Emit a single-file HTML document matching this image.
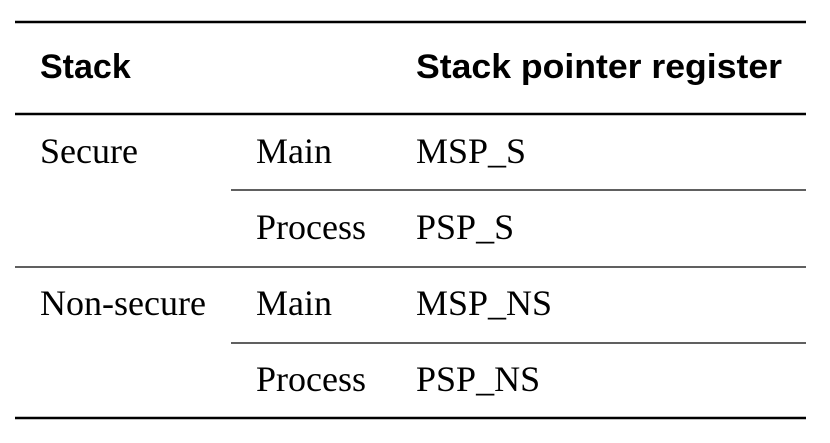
<!DOCTYPE html>
<html><head><style>html,body{margin:0;padding:0;background:#fff}</style></head>
<body>
<svg width="830" height="438" xmlns="http://www.w3.org/2000/svg">
<rect width="830" height="438" fill="#fff"/>
<g stroke="#000">
<line x1="15" y1="22" x2="806" y2="22" stroke-width="2.5"/>
<line x1="15" y1="114" x2="806" y2="114" stroke-width="2.5"/>
<line x1="231" y1="190" x2="806" y2="190" stroke-width="1.3"/>
<line x1="15" y1="267" x2="806" y2="267" stroke-width="1.3"/>
<line x1="231" y1="343" x2="806" y2="343" stroke-width="1.3"/>
<line x1="15" y1="418" x2="806" y2="418" stroke-width="2.5"/>
</g>
<g font-family="Liberation Sans, sans-serif" font-weight="bold" font-size="34">
<text x="40" y="78">Stack</text>
<text x="416" y="78" textLength="366" lengthAdjust="spacingAndGlyphs">Stack pointer register</text>
</g>
<g font-family="Liberation Serif, serif" font-size="36">
<text x="40" y="163">Secure</text>
<text x="256" y="163">Main</text>
<text x="416" y="163">MSP_S</text>
<text x="256" y="239">Process</text>
<text x="416" y="239">PSP_S</text>
<text x="40" y="315">Non-secure</text>
<text x="256" y="315">Main</text>
<text x="416" y="315">MSP_NS</text>
<text x="256" y="391">Process</text>
<text x="416" y="391">PSP_NS</text>
</g>
</svg>
</body></html>
